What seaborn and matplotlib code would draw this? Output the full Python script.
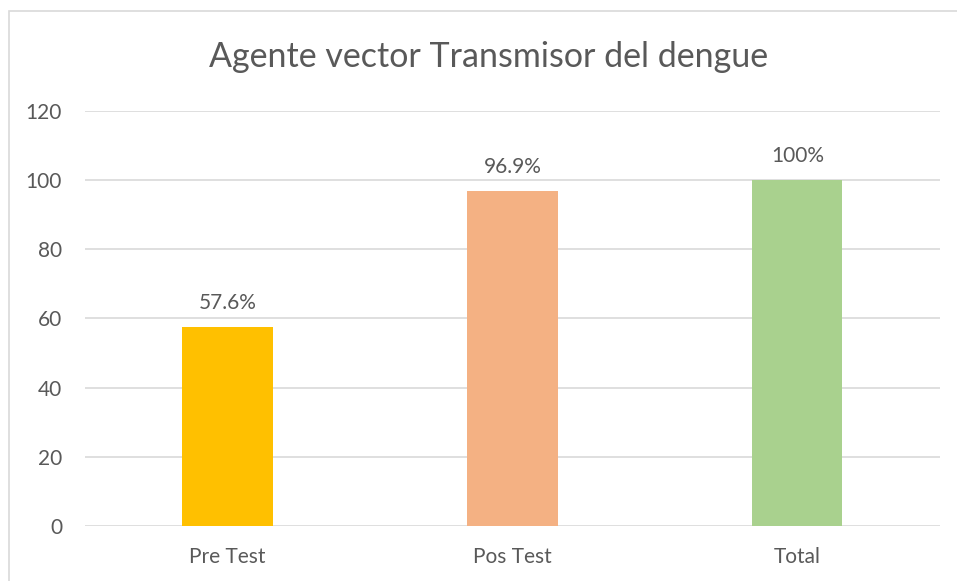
import matplotlib
matplotlib.use("Agg")
import matplotlib.pyplot as plt
import seaborn as sns
import pandas as pd
from matplotlib.patches import Rectangle

# --- Data ---
categories = ["Pre Test", "Pos Test", "Total"]
values = [57.6, 96.9, 100]
labels = ["57.6%", "96.9%", "100%"]
colors = ["#FFC000", "#F4B183", "#A9D18E"]
y_ticks = [0, 20, 40, 60, 80, 100, 120]

TEXT = "#595959"
GRID = "#D9D9D9"

sns.set_theme(style="white")
plt.rcParams['font.family'] = ['Lato', 'DejaVu Sans']

df = pd.DataFrame({"cat": categories, "val": values})

fig = plt.figure(figsize=(9.57, 5.81), dpi=100)
ax = fig.add_axes([0.0888, 0.0947, 0.8934, 0.7143])

sns.barplot(data=df, x="cat", y="val", hue="cat", palette=colors,
            width=0.316, legend=False, ax=ax, saturation=1, linewidth=0)

for cont, lab in zip(ax.containers, labels):
    ax.bar_label(cont, labels=[lab], padding=10, fontsize=15, color=TEXT)

ax.set_ylim(0, 120)
ax.set_yticks(y_ticks)
ax.set_xlim(-0.5, 2.5)
ax.yaxis.grid(True, color=GRID, linewidth=1.2)
ax.set_axisbelow(True)
for s in ax.spines.values():
    s.set_visible(False)
ax.tick_params(axis="both", length=0, labelsize=15, colors=TEXT)
ax.tick_params(axis="y", pad=16.5)
ax.tick_params(axis="x", pad=15)
ax.set_xlabel("")
ax.set_ylabel("")

fig.text(489 / 957, 1 - 57 / 581, "Agente vector Transmisor del dengue", ha="center",
         va="center", fontsize=24.5, color=TEXT)

# chart frame (extends past right and bottom edges)
fig.patches.append(Rectangle((9 / 957, -0.1), 1.2, 1 - 11 / 581 + 0.1,
                             transform=fig.transFigure, fill=False,
                             edgecolor=GRID, linewidth=1.2))

fig.savefig("out.png", dpi=100)
